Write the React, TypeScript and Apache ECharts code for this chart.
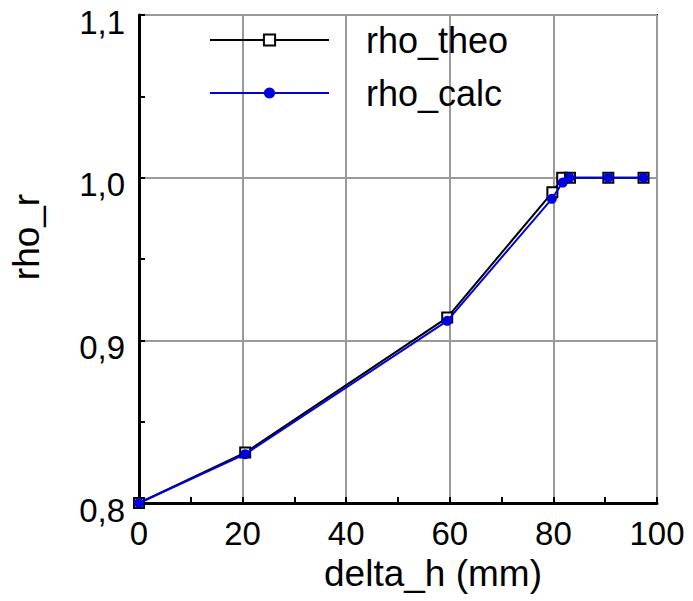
import React, { useEffect, useRef } from "react";
import * as echarts from "echarts";

const xTheo = [0, 20.5, 59.5, 79.8, 81.7, 83.2, 90.6, 97.4];
const rhoTheo = [0.8, 0.831, 0.914, 0.991, 1.0, 1.0, 1.0, 1.0];
const xCalc = [0, 20.5, 59.5, 79.7, 81.8, 83.1, 90.6, 97.4];
const rhoCalc = [0.8, 0.83, 0.912, 0.987, 0.997, 1.0, 1.0, 1.0];
const seriesNames = ["rho_theo", "rho_calc"];
const xName = "delta_h (mm)";
const yName = "rho_r";

const FONT = "'Liberation Sans', Arial, sans-serif";

export default function App() {
  const ref = useRef<HTMLDivElement>(null);
  useEffect(() => {
    if (!ref.current) return;
    const chart = echarts.init(ref.current, null, { renderer: "svg" });
    const grid = "#9a9a9a";
    chart.setOption({
      animation: false,
      backgroundColor: "#ffffff",
      textStyle: { fontFamily: FONT },
      grid: {
        left: 134,
        right: 36,
        top: 15,
        bottom: 98,
        show: true,
        borderColor: "#000",
        borderWidth: 2,
        backgroundColor: "transparent",
      },
      legend: {
        orient: "vertical",
        left: 204,
        top: 10,
        itemWidth: 119,
        itemHeight: 14,
        itemGap: 3,
        data: seriesNames,
        textStyle: {
          fontFamily: FONT,
          fontSize: 36,
          color: "#000",
          lineHeight: 40,
          padding: [10, 0, 0, 32],
        },
      },
      xAxis: {
        type: "value",
        min: 0,
        max: 100,
        interval: 20,
        name: xName,
        nameLocation: "middle",
        nameGap: 50,
        nameTextStyle: {
          fontFamily: FONT,
          fontSize: 37,
          color: "#000",
          padding: [0, 0, 0, 70],
        },
        axisLine: { show: true, onZero: false, lineStyle: { color: "#000", width: 3 } },
        axisTick: { show: true, inside: true, length: 6, lineStyle: { color: "#000", width: 2 } },
        minorTick: { show: true, splitNumber: 2, length: 6, lineStyle: { color: "#000", width: 2 } },
        axisLabel: {
          fontFamily: FONT,
          fontSize: 33,
          color: "#000",
          margin: 14,
          showMinLabel: true,
          showMaxLabel: true,
        },
        splitLine: {
          show: true,
          lineStyle: { color: grid, width: 2, type: "solid" },
        },
      },
      yAxis: {
        type: "value",
        min: 0.8,
        max: 1.1,
        interval: 0.1,
        name: yName,
        nameLocation: "middle",
        nameGap: 94,
        nameRotate: 90,
        nameTextStyle: {
          fontFamily: FONT,
          fontSize: 37,
          color: "#000",
          padding: [0, 0, 0, 44],
        },
        axisLine: { show: true, onZero: false, lineStyle: { color: "#000", width: 3 } },
        axisTick: { show: true, inside: true, length: 6, lineStyle: { color: "#000", width: 2 } },
        minorTick: { show: true, splitNumber: 2, length: 6, lineStyle: { color: "#000", width: 2 } },
        axisLabel: {
          fontFamily: FONT,
          fontSize: 33,
          color: "#000",
          margin: 14,
          verticalAlign: "top",
          lineHeight: 14,
          formatter: (v: number) => v.toFixed(1).replace(".", ","),
        },
        splitLine: {
          show: true,
          lineStyle: { color: grid, width: 2, type: "solid" },
        },
      },
      series: [
        {
          name: seriesNames[0],
          type: "line",
          data: xTheo.map((x, i) => [x, rhoTheo[i]]),
          symbol: "rect",
          symbolSize: 10,
          showAllSymbol: true,
          color: "#000",
          lineStyle: { color: "#000", width: 2 },
          itemStyle: { color: "#fff", borderColor: "#000", borderWidth: 2 },
          z: 2,
        },
        {
          name: seriesNames[1],
          type: "line",
          data: xCalc.map((x, i) => [x, rhoCalc[i]]),
          symbol: "circle",
          symbolSize: 10,
          showAllSymbol: true,
          color: "#0000dd",
          lineStyle: { color: "#0000dd", width: 2 },
          itemStyle: { color: "#0000dd", borderColor: "#0000dd", borderWidth: 0 },
          z: 3,
        },
      ],
    });
    return () => chart.dispose();
  }, []);
  return <div ref={ref} style={{ width: 693, height: 601, marginLeft: -8, marginTop: -8 }} />;
}
